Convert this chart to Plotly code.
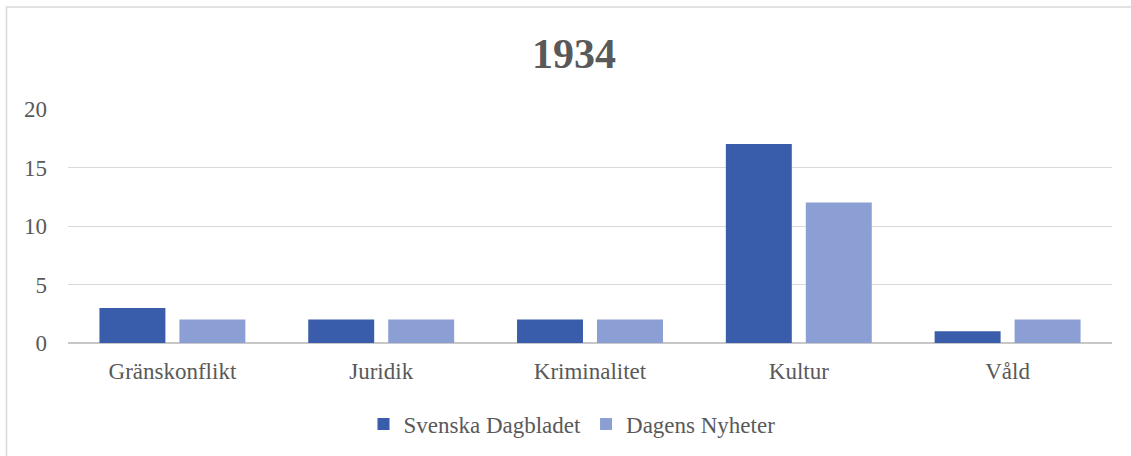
import plotly.graph_objects as go

categories = ["Gränskonflikt", "Juridik", "Kriminalitet", "Kultur", "Våld"]
svenska_dagbladet = [3, 2, 2, 17, 1]
dagens_nyheter = [2, 2, 2, 12, 2]
y_ticks = [0, 5, 10, 15, 20]
title_text = "1934"

W, H = 1131, 456
ML, MR, MT, MB = 68, 19, 109, 112

font_family = "Liberation Serif"
text_color = "#595959"

fig = go.Figure()
fig.add_trace(go.Bar(
    name="Svenska Dagbladet", x=categories, y=svenska_dagbladet,
    marker=dict(color="#3a5dab", line=dict(width=0)),
))
fig.add_trace(go.Bar(
    name="Dagens Nyheter", x=categories, y=dagens_nyheter,
    marker=dict(color="#8c9fd4", line=dict(width=0)),
))

pw = W - ML - MR
ph = H - MT - MB

def px_x(x):
    return (x - ML) / pw

def px_y(y):
    return (H - MB - y) / ph

fig.update_layout(
    width=W, height=H,
    margin=dict(l=ML, r=MR, t=MT, b=MB, pad=0),
    paper_bgcolor="white", plot_bgcolor="white",
    barmode="group", bargap=0.234, bargroupgap=0.175,
    font=dict(family=font_family, color=text_color, size=24),
    title=dict(
        text="<b>" + title_text + "</b>",
        x=574 / W, xanchor="center", xref="container",
        y=1 - 53 / H, yanchor="middle", yref="container",
        font=dict(family=font_family, size=42, color=text_color),
    ),
    xaxis=dict(
        showgrid=False, showline=False, zeroline=False,
        ticks="", ticklabelstandoff=12,
        tickfont=dict(family=font_family, size=23, color=text_color),
    ),
    yaxis=dict(
        range=[0, 20], tickvals=y_ticks, showgrid=True,
        gridcolor="#d9d9d9", gridwidth=1.3, zeroline=True,
        zerolinecolor="#c8c8c8", zerolinewidth=1.5, showline=False,
        ticks="", ticklabelstandoff=20,
        tickfont=dict(family=font_family, size=23, color=text_color),
    ),
    legend=dict(
        orientation="h", x=px_x(572), xanchor="center",
        y=px_y(424), yanchor="middle",
        font=dict(family=font_family, size=23, color=text_color),
        itemwidth=30, traceorder="normal",
    ),
    shapes=[dict(
        type="rect", xref="paper", yref="paper",
        x0=px_x(6.5), x1=px_x(1145), y0=px_y(470), y1=px_y(6.5),
        line=dict(color="#d9d9d9", width=1.5), fillcolor="rgba(0,0,0,0)",
        layer="below",
    )],
)

fig.write_html(
    "out.html",
    config={"displayModeBar": False},
    post_script="document.body.style.margin='0';document.body.style.overflow='hidden';",
)
